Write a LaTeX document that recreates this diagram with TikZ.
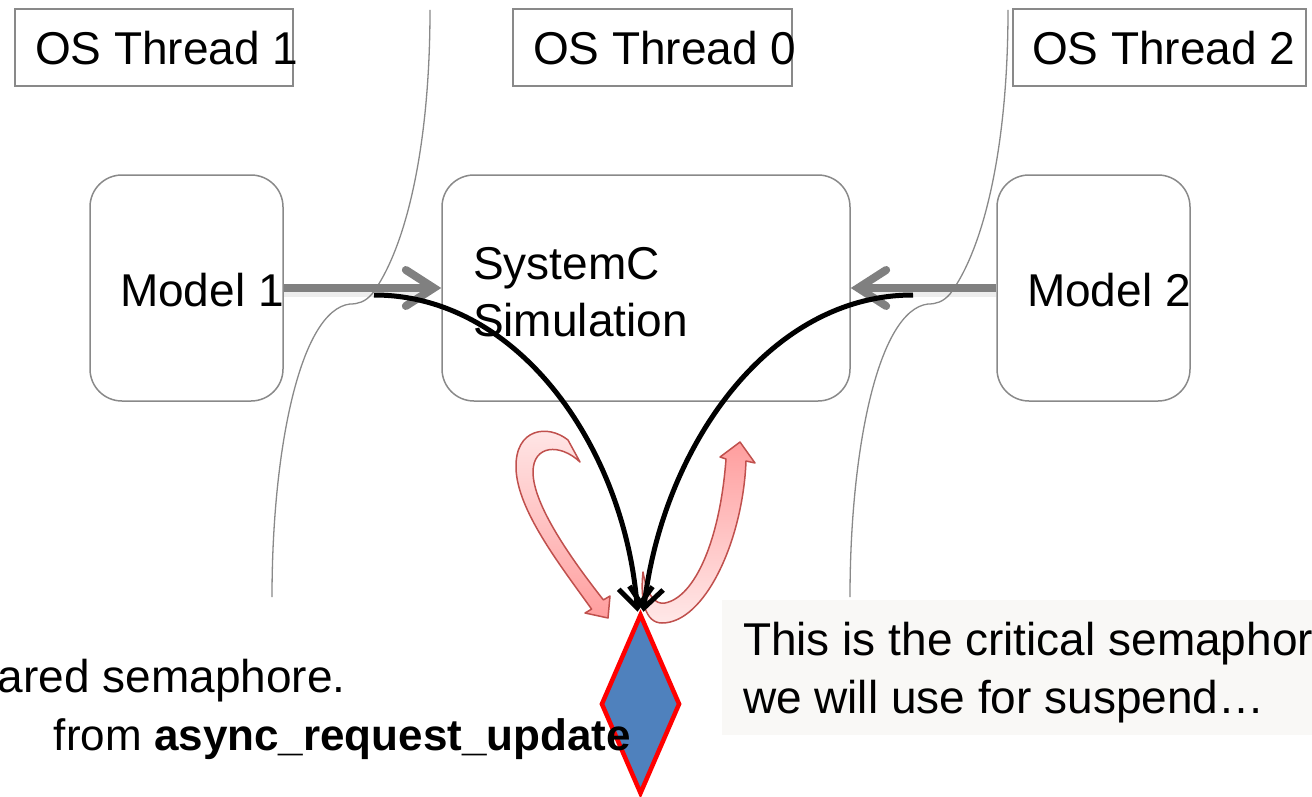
\documentclass[tikz,border=0pt]{standalone}
\usepackage{fontspec}
\setmainfont{Liberation Sans}
\usetikzlibrary{arrows.meta,shapes.geometric}
\definecolor{boxgray}{HTML}{898989}
\definecolor{arrowgray}{HTML}{808080}
\definecolor{semblue}{HTML}{4F81BD}
\definecolor{pinkedge}{HTML}{C0504D}
\definecolor{pinklight}{HTML}{FFE8E8}
\definecolor{pinkdark}{HTML}{FF9E9E}
\definecolor{notebg}{HTML}{F9F8F6}
\begin{document}
\begin{tikzpicture}[x=1pt,y=-1pt,
  bigtext/.style={font=\fontsize{46}{52}\selectfont, inner sep=0pt, outer sep=0pt},
  threadbox/.style={draw=boxgray, line width=1.5pt, rectangle, inner sep=0pt, minimum height=77pt},
  modelbox/.style={draw=boxgray, line width=1.5pt, rounded corners=32pt, inner sep=0pt, minimum height=226pt},
  sepline/.style={draw=boxgray, line width=1.3pt},
  flowarrow/.style={draw=arrowgray, line width=8pt, -{Straight Barb[length=28pt,width=36pt,line cap=round]}},
  flowshadow/.style={draw=black, opacity=0.07, line width=9pt, transform canvas={yshift=-4pt}},
  callarrow/.style={draw=black, line width=5pt, -{Straight Barb[length=20pt,width=34pt]}},
  pinkarrow/.style={draw=pinkedge, line width=1.5pt, line join=round},
]
\useasboundingbox (0,0) rectangle (1312,797);
\clip (0,0) rectangle (1312,797);

% thread separators
\draw[sepline] (430,10) .. controls (430,150) and (405,250) .. (372,294)
  .. controls (365,302) and (358,304) .. (350,304)
  .. controls (300,310) and (272,450) .. (272,597);
\draw[sepline] (1008,10) .. controls (1008,150) and (983,250) .. (950,294)
  .. controls (943,302) and (936,304) .. (928,304)
  .. controls (878,310) and (850,450) .. (850,597);

% thread title boxes
\node[threadbox, minimum width=278pt] (t1box) at (154,47.5) {};
\node[threadbox, minimum width=279pt] (t0box) at (652.5,47.5) {};
\node[threadbox, minimum width=293pt] (t2box) at (1159.5,47.5) {};
\node[bigtext, anchor=base west] (t1) at (35,65) {OS Thread 1};
\node[bigtext, anchor=base west] (t0) at (533,65) {OS Thread 0};
\node[bigtext, anchor=base west] (t2) at (1032,65) {OS Thread 2};

% model boxes
\node[modelbox, minimum width=193pt] (m1) at (186.5,288) {};
\node[modelbox, minimum width=408pt] (sysc) at (646,288) {};
\node[modelbox, minimum width=193pt] (m2) at (1093.5,288) {};
\node[bigtext, anchor=base west] (m1t) at (120,306) {Model 1};
\node[bigtext, anchor=base west] (m2t) at (1027,306) {Model 2};
\node[bigtext, anchor=base west] (sysct1) at (473,279) {SystemC};
\node[bigtext, anchor=base west] (sysct2) at (473,336) {Simulation};

% gray flow arrows
\draw[flowshadow] (m1.east) -- ([xshift=-20pt]sysc.west);
\draw[flowshadow] (m2.west) -- ([xshift=20pt]sysc.east);
\draw[flowarrow] (m1.east) -- (sysc.west);
\draw[flowarrow] (m2.west) -- (sysc.east);

% pink curved arrows
\shadedraw[pinkarrow, top color=pinklight, bottom color=pinkdark]
  (568,440) .. controls (548,424) and (515,428) .. (516,468)
  .. controls (517,510) and (560,565) .. (591.6,609.1)
  -- (585,613) -- (608,618) -- (610,596) -- (603.4,599.9)
  .. controls (572,560) and (533,505) .. (533,472)
  .. controls (533,445) and (560,443) .. (580,462) -- cycle;
\shadedraw[pinkarrow, top color=pinkdark, bottom color=pinklight]
  (740,442) -- (755,463) -- (746,461)
  .. controls (743,540) and (705,623) .. (662,623)
  .. controls (645,623) and (640,600) .. (643,572)
  .. controls (647,595) and (655,605) .. (665,603)
  .. controls (695,597) and (720,540) .. (726,459) -- (720,457) -- cycle;

% semaphore
\node[diamond, draw=red, fill=semblue, line width=4.5pt, minimum width=79pt,
      minimum height=180pt, inner sep=0pt] (sem) at (640.5,704) {};

% black call arrows
\coordinate (c1) at (374,295);
\coordinate (c2) at (913,295);
\draw[callarrow] (c1) .. controls (520,295) and (625,450) .. ([xshift=-3pt]sem.north);
\draw[callarrow] (c2) .. controls (767,295) and (662,450) .. ([xshift=3pt]sem.north);

% bottom left text
\node[bigtext, anchor=base west] (shared) at (-2,692) {ared semaphore.};
\node[bigtext, font=\fontsize{44}{50}\selectfont, anchor=base east] (from) at (631,750) {from \textbf{async\_request\_update}};

% note
\node[fill=notebg, minimum width=600pt, minimum height=135pt, anchor=north west,
      inner sep=0pt] (note) at (722,600) {};
\node[bigtext, anchor=base west] (note1) at (743,655) {This is the critical semaphore};
\node[bigtext, anchor=base west] (note2) at (743,713) {we will use for suspend…};
\end{tikzpicture}
\end{document}
